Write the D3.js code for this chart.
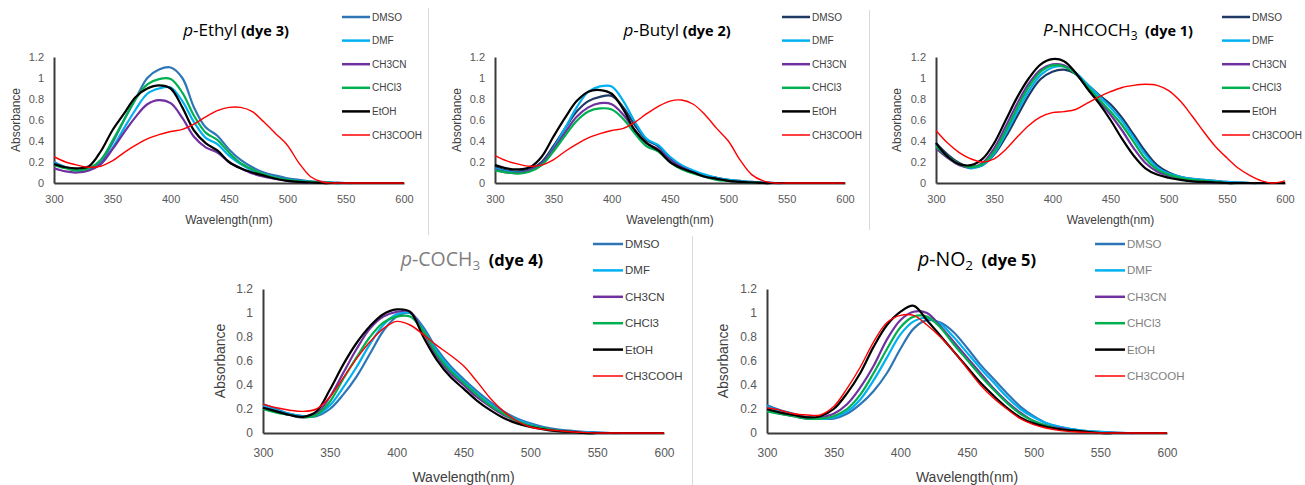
<!DOCTYPE html>
<meta charset="utf-8">
<style>
body { margin: 0; background: #fff; }
svg { font-family: "Liberation Sans", Arial, sans-serif; }
.title { white-space: pre; }
</style>
<svg width="1305" height="485"></svg>
<script src="https://d3js.org/d3.v7.min.js"></script>
<script>

// wavelengths (nm), shared by every spectrum
var wavelengths = [300,310,320,330,340,350,360,370,380,390,400,410,420,430,440,450,
                   460,470,480,490,500,510,520,530,540,550,560,570,580,590,600];
var solvents = ["DMSO", "DMF", "CH3CN", "CHCl3", "EtOH", "CH3COOH"];
var xTicks = [300, 350, 400, 450, 500, 550, 600];
var yTicks = [0, 0.2, 0.4, 0.6, 0.8, 1, 1.2];

// p-Ethyl (dye 3)
var ethylDMSO  = [0.20,0.15,0.12,0.13,0.20,0.38,0.60,0.80,1.00,1.08,1.10,1.00,0.72,0.53,0.45,0.32,0.22,0.15,0.10,0.07,0.045,0.03,0.015,0.01,0.005,0,0,0,0,0,0];
var ethylDMF   = [0.19,0.15,0.12,0.13,0.18,0.33,0.52,0.70,0.85,0.90,0.91,0.78,0.58,0.43,0.37,0.26,0.18,0.12,0.08,0.05,0.03,0.02,0.01,0.005,0,0,0,0,0,0,0];
var ethylCH3CN = [0.14,0.11,0.10,0.12,0.18,0.32,0.48,0.63,0.75,0.79,0.76,0.62,0.44,0.34,0.29,0.20,0.14,0.09,0.06,0.04,0.02,0.01,0.005,0,0,0,0,0,0,0,0];
var ethylCHCl3 = [0.17,0.14,0.12,0.14,0.22,0.40,0.60,0.80,0.94,0.99,0.99,0.86,0.64,0.48,0.41,0.29,0.19,0.13,0.08,0.05,0.03,0.015,0.01,0.005,0,0,0,0,0,0,0];
var ethylEtOH  = [0.18,0.15,0.14,0.16,0.30,0.50,0.66,0.82,0.90,0.93,0.90,0.72,0.50,0.38,0.31,0.20,0.14,0.10,0.07,0.04,0.02,0.01,0.005,0,0,0,0,0,0,0,0];
var ethylAcOH  = [0.25,0.20,0.17,0.15,0.16,0.21,0.29,0.36,0.42,0.46,0.49,0.51,0.56,0.63,0.69,0.72,0.72,0.68,0.58,0.47,0.36,0.19,0.06,0.01,0,0,0,0,0,0,0];

// p-Butyl (dye 2)
var butylDMSO  = [0.15,0.12,0.11,0.13,0.20,0.35,0.52,0.68,0.78,0.82,0.83,0.72,0.55,0.41,0.35,0.24,0.16,0.11,0.07,0.05,0.03,0.02,0.01,0.005,0,0,0,0,0,0,0];
var butylDMF   = [0.14,0.11,0.10,0.12,0.18,0.33,0.52,0.72,0.87,0.92,0.92,0.78,0.58,0.42,0.36,0.25,0.17,0.12,0.08,0.05,0.03,0.02,0.01,0.005,0,0,0,0,0,0,0];
var butylCH3CN = [0.13,0.10,0.095,0.12,0.18,0.32,0.48,0.63,0.72,0.76,0.75,0.65,0.50,0.38,0.32,0.22,0.15,0.10,0.06,0.04,0.02,0.01,0.005,0,0,0,0,0,0,0,0];
var butylCHCl3 = [0.12,0.10,0.09,0.11,0.17,0.30,0.45,0.59,0.68,0.71,0.70,0.61,0.47,0.35,0.30,0.20,0.13,0.09,0.06,0.03,0.02,0.01,0.005,0,0,0,0,0,0,0,0];
var butylEtOH  = [0.17,0.14,0.13,0.15,0.25,0.44,0.62,0.78,0.87,0.885,0.85,0.70,0.50,0.38,0.31,0.20,0.14,0.10,0.06,0.04,0.02,0.01,0.005,0,0,0,0,0,0,0,0];
var butylAcOH  = [0.26,0.21,0.18,0.16,0.17,0.22,0.30,0.37,0.43,0.47,0.50,0.52,0.58,0.66,0.73,0.78,0.79,0.75,0.65,0.52,0.40,0.22,0.08,0.02,0,0,0,0,0,0,0];

// P-NHCOCH3 (dye 1)
var amideDMSO  = [0.38,0.27,0.19,0.15,0.17,0.27,0.44,0.64,0.84,0.99,1.06,1.08,1.04,0.94,0.84,0.75,0.62,0.46,0.30,0.17,0.10,0.06,0.04,0.03,0.02,0.01,0.005,0,0,0,0];
var amideDMF   = [0.36,0.25,0.18,0.14,0.17,0.28,0.47,0.68,0.88,1.03,1.10,1.11,1.05,0.94,0.83,0.72,0.59,0.43,0.27,0.15,0.09,0.06,0.04,0.03,0.02,0.01,0.005,0,0,0,0];
var amideCH3CN = [0.33,0.24,0.17,0.15,0.19,0.33,0.54,0.76,0.95,1.08,1.13,1.12,1.04,0.91,0.78,0.65,0.50,0.33,0.19,0.11,0.07,0.04,0.02,0.01,0.005,0,0,0,0,0,0];
var amideCHCl3 = [0.35,0.25,0.18,0.15,0.18,0.30,0.50,0.72,0.92,1.06,1.12,1.11,1.04,0.92,0.80,0.68,0.55,0.39,0.23,0.13,0.08,0.05,0.03,0.02,0.01,0,0,0,0,0,0];
var amideEtOH  = [0.38,0.25,0.18,0.17,0.23,0.38,0.60,0.82,1.00,1.13,1.18,1.16,1.05,0.90,0.76,0.60,0.42,0.26,0.14,0.08,0.05,0.03,0.015,0.01,0.005,0,0,0,0,0,0];
var amideAcOH  = [0.50,0.38,0.29,0.23,0.20,0.23,0.32,0.44,0.55,0.63,0.67,0.68,0.70,0.76,0.82,0.87,0.91,0.93,0.94,0.93,0.88,0.78,0.64,0.49,0.35,0.24,0.14,0.07,0.02,0,0.02];

// p-COCH3 (dye 4)
var acetylDMSO  = [0.24,0.20,0.16,0.14,0.14,0.20,0.32,0.47,0.66,0.85,0.97,1.00,0.88,0.70,0.56,0.45,0.35,0.26,0.18,0.12,0.08,0.05,0.03,0.02,0.01,0.005,0,0,0,0,0];
var acetylDMF   = [0.22,0.19,0.16,0.14,0.15,0.23,0.38,0.55,0.74,0.90,0.99,1.00,0.86,0.68,0.54,0.43,0.33,0.24,0.16,0.11,0.07,0.04,0.02,0.01,0.005,0,0,0,0,0,0];
var acetylCH3CN = [0.21,0.18,0.15,0.13,0.16,0.30,0.50,0.70,0.87,0.97,1.01,1.01,0.84,0.64,0.50,0.40,0.30,0.22,0.15,0.10,0.06,0.04,0.02,0.01,0,0,0,0,0,0,0];
var acetylCHCl3 = [0.20,0.17,0.15,0.13,0.15,0.26,0.45,0.63,0.80,0.92,0.97,0.97,0.85,0.66,0.52,0.42,0.32,0.23,0.16,0.10,0.06,0.04,0.02,0.01,0,0,0,0,0,0,0];
var acetylEtOH  = [0.21,0.18,0.15,0.135,0.18,0.36,0.57,0.75,0.89,0.99,1.03,1.01,0.80,0.61,0.47,0.37,0.27,0.19,0.125,0.08,0.05,0.03,0.015,0.01,0,0,0,0,0,0,0];
var acetylAcOH  = [0.24,0.21,0.19,0.18,0.20,0.30,0.46,0.62,0.76,0.87,0.93,0.90,0.82,0.73,0.65,0.56,0.43,0.29,0.18,0.10,0.05,0.03,0.02,0.01,0.005,0,0,0,0,0,0];

// p-NO2 (dye 5)
var nitroDMSO  = [0.23,0.19,0.16,0.13,0.12,0.12,0.16,0.24,0.35,0.50,0.70,0.87,0.94,0.92,0.84,0.71,0.57,0.45,0.33,0.22,0.14,0.08,0.05,0.03,0.015,0.01,0.005,0,0,0,0];
var nitroDMF   = [0.22,0.18,0.15,0.13,0.12,0.13,0.18,0.28,0.44,0.63,0.82,0.93,0.96,0.91,0.80,0.67,0.54,0.42,0.30,0.20,0.13,0.08,0.05,0.03,0.015,0.01,0,0,0,0,0];
var nitroCH3CN = [0.19,0.16,0.14,0.12,0.13,0.16,0.24,0.38,0.56,0.78,0.94,1.01,1.00,0.89,0.76,0.63,0.50,0.37,0.26,0.17,0.10,0.06,0.04,0.02,0.01,0,0,0,0,0,0];
var nitroCHCl3 = [0.18,0.16,0.14,0.12,0.12,0.14,0.20,0.32,0.50,0.70,0.88,0.97,0.97,0.88,0.74,0.61,0.48,0.36,0.25,0.16,0.10,0.06,0.03,0.02,0.01,0,0,0,0,0,0];
var nitroEtOH  = [0.20,0.17,0.15,0.13,0.14,0.20,0.33,0.50,0.72,0.90,1.01,1.06,0.94,0.81,0.68,0.55,0.42,0.31,0.21,0.13,0.08,0.05,0.03,0.02,0.01,0,0,0,0,0,0];
var nitroAcOH  = [0.21,0.19,0.16,0.15,0.15,0.22,0.37,0.55,0.76,0.92,0.98,0.98,0.90,0.80,0.68,0.54,0.40,0.29,0.20,0.12,0.07,0.04,0.02,0.01,0.005,0,0,0,0,0,0];

var svg = d3.select("svg");

// panel layouts (pixel boxes)
var small = { tick: 11, axisTitle: 12, legend: 10, legendStep: 23.6, xPad: 12, yPad: 10,
              title: 17, titleBold: 14.5, titleSub: 12, lineLen: 28 };
var big   = { tick: 12, axisTitle: 14, legend: 11.5, legendStep: 26.4, xPad: 15, yPad: 10,
              title: 19.5, titleBold: 16.5, titleSub: 13.5, lineLen: 30 };

var panels = [
  { series: [ethylDMSO, ethylDMF, ethylCH3CN, ethylCHCl3, ethylEtOH, ethylAcOH],
    left: 54, right: 404, top: 57, bottom: 183, f: small, dmso: "#2e75b6",
    legendX: 342, legendY: 17, legendColor: "#404040", yTitleX: 16, xTitleY: 224,
    titleX: 236, titleY: 36, title: [["p", "italic"], ["-Ethyl"], [" (dye 3)", "bold"]] },
  { series: [butylDMSO, butylDMF, butylCH3CN, butylCHCl3, butylEtOH, butylAcOH],
    left: 495, right: 845, top: 57, bottom: 183, f: small, dmso: "#203864",
    legendX: 782, legendY: 17, legendColor: "#404040", yTitleX: 457, xTitleY: 224,
    titleX: 677, titleY: 36, title: [["p", "italic"], ["-Butyl"], [" (dye 2)", "bold"]] },
  { series: [amideDMSO, amideDMF, amideCH3CN, amideCHCl3, amideEtOH, amideAcOH],
    left: 936, right: 1285, top: 57, bottom: 183, f: small, dmso: "#203864",
    legendX: 1222, legendY: 17, legendColor: "#404040", yTitleX: 897, xTitleY: 224,
    titleX: 1118, titleY: 36, title: [["P", "italic"], ["-NHCOCH"], ["3", "sub"], ["  (dye 1)", "bold"]] },
  { series: [acetylDMSO, acetylDMF, acetylCH3CN, acetylCHCl3, acetylEtOH, acetylAcOH],
    left: 263, right: 664, top: 289, bottom: 433, f: big, dmso: "#2e75b6",
    legendX: 593, legendY: 244, legendColor: "#404040", yTitleX: 220, xTitleY: 482,
    titleX: 472, titleY: 266, titleColor: "#7f7f7f",
    title: [["p", "italic"], ["-COCH"], ["3", "sub"], ["  (dye 4)", "bold", "#000"]] },
  { series: [nitroDMSO, nitroDMF, nitroCH3CN, nitroCHCl3, nitroEtOH, nitroAcOH],
    left: 767, right: 1167, top: 289, bottom: 433, f: big, dmso: "#2e75b6",
    legendX: 1095, legendY: 244, legendColor: "#7f7f7f", yTitleX: 723, xTitleY: 482,
    titleX: 977, titleY: 266, title: [["p", "italic"], ["-NO"], ["2", "sub"], ["  (dye 5)", "bold"]] }
];

// panel separators
[[428, 8, 235], [869, 10, 230], [692, 236, 485]].forEach(function(s) {
  svg.append("line")
    .attr("x1", s[0] + 0.5).attr("x2", s[0] + 0.5)
    .attr("y1", s[1]).attr("y2", s[2])
    .attr("stroke", "#d9d9d9").attr("stroke-width", 1);
});

panels.forEach(drawPanel);

function drawPanel(p) {
  var colors = [p.dmso, "#00b0f0", "#7030a0", "#00b050", "#000000", "#ff0000"];
  var widths = [2.2, 2.2, 2.2, 2.2, 2.2, 1.4];

  var x = d3.scaleLinear().domain([300, 600]).range([p.left, p.right]);
  var y = d3.scaleLinear().domain([0, 1.2]).range([p.bottom, p.top]);
  var g = svg.append("g");

  var xAxis = g.append("g")
    .attr("transform", "translate(0," + p.bottom + ")")
    .call(d3.axisBottom(x).tickValues(xTicks).tickSize(0).tickPadding(p.f.xPad));
  var yAxis = g.append("g")
    .attr("transform", "translate(" + p.left + ",0)")
    .call(d3.axisLeft(y).tickValues(yTicks).tickSize(0).tickPadding(p.f.yPad)
      .tickFormat(function(d) { return String(+d.toFixed(1)); }));

  [xAxis, yAxis].forEach(function(a) {
    a.attr("font-family", null).attr("font-size", p.f.tick);
    a.select(".domain").attr("stroke", "#3a3a3a").attr("stroke-width", 2);
    a.selectAll("text").attr("fill", "#595959");
  });

  // spectra, drawn in series order like the original
  var line = d3.line()
    .x(function(d, i) { return x(wavelengths[i]); })
    .y(function(d) { return y(d); })
    .curve(d3.curveCatmullRom.alpha(0.5));

  g.append("g").selectAll("path")
    .data(p.series)
    .enter().append("path")
    .attr("d", line)
    .attr("fill", "none")
    .attr("stroke", function(d, i) { return colors[i]; })
    .attr("stroke-width", function(d, i) { return widths[i]; })
    .attr("stroke-linejoin", "round");

  // axis titles
  g.append("text")
    .attr("transform", "translate(" + p.yTitleX + "," + (p.top + p.bottom) / 2 + ") rotate(-90)")
    .attr("text-anchor", "middle").attr("dy", "0.35em")
    .attr("font-size", p.f.axisTitle).attr("fill", "#404040")
    .text("Absorbance");
  g.append("text")
    .attr("x", (p.left + p.right) / 2).attr("y", p.xTitleY)
    .attr("text-anchor", "middle")
    .attr("font-size", p.f.axisTitle).attr("fill", "#404040")
    .text("Wavelength(nm)");

  // legend
  var leg = g.append("g").selectAll("g")
    .data(solvents)
    .enter().append("g")
    .attr("transform", function(d, i) { return "translate(" + p.legendX + "," + (p.legendY + i * p.f.legendStep) + ")"; });
  leg.append("line")
    .attr("x1", 0).attr("x2", p.f.lineLen)
    .attr("stroke", function(d, i) { return colors[i]; })
    .attr("stroke-width", function(d, i) { return i === 5 ? 1.5 : 2.5; });
  leg.append("text")
    .attr("x", p.f.lineLen + 2).attr("dy", "0.35em")
    .attr("font-size", p.f.legend).attr("fill", p.legendColor)
    .text(function(d) { return d; });

  // title
  var t = g.append("text")
    .attr("class", "title")
    .attr("x", p.titleX).attr("y", p.titleY)
    .attr("text-anchor", "middle")
    .attr("font-family", "'Open Sans', sans-serif")
    .attr("fill", p.titleColor || "#000");
  var shifted = false;
  p.title.forEach(function(part) {
    var s = t.append("tspan").text(part[0]).attr("font-size", p.f.title);
    if (shifted) { s.attr("dy", -4); shifted = false; }
    if (part[1] === "italic") s.attr("font-style", "italic");
    if (part[1] === "bold") s.attr("font-weight", "bold").attr("font-size", p.f.titleBold);
    if (part[1] === "sub") { s.attr("dy", 4).attr("font-size", p.f.titleSub); shifted = true; }
    if (part[2]) s.attr("fill", part[2]);
  });
}

</script>
